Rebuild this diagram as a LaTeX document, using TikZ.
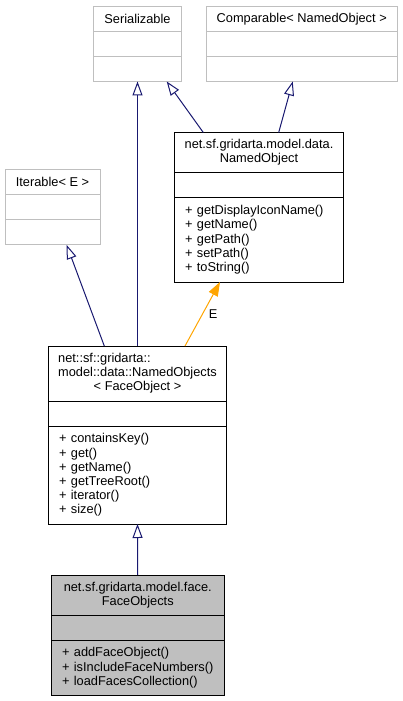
\documentclass[tikz,border=0pt]{standalone}
\usepackage{fontspec}
\setmainfont{Liberation Sans}
\usepackage{calc}
\usetikzlibrary{arrows.meta,positioning,calc}

\definecolor{edgeblue}{HTML}{191970}
\definecolor{extgray}{HTML}{BFBFBF}
\definecolor{mainfill}{HTML}{BFBFBF}
\definecolor{tplorange}{HTML}{FFA500}

\begin{document}
\begin{tikzpicture}[x=0.75pt, y=-0.75pt,
  cls/.style={draw, rectangle, line width=0.75pt, inner sep=0pt, outer sep=0pt, align=center, font=\fontsize{9.6}{10.6}\selectfont},
  ext/.style={cls, draw=extgray},
  ops/.style={cls, align=left, inner xsep=8pt},
  inh/.style={-{Triangle[open, length=10.5pt, width=7.5pt]}, line width=0.75pt, draw=edgeblue},
  tmpl/.style={-{Triangle[length=10.5pt, width=7.5pt]}, line width=0.75pt, color=tplorange}
]
\useasboundingbox (0,0) rectangle (403,701);

% external base classes
\node[ext, minimum width=66pt, minimum height=19.1pt, anchor=north] (ser) at (137.5,6) {Serializable};
\node[ext, minimum width=66pt, minimum height=18.75pt, below=0pt of ser] (serA) {};
\node[ext, minimum width=66pt, minimum height=18.75pt, below=0pt of serA] (serM) {};

\node[ext, minimum width=143.6pt, minimum height=19.1pt, anchor=north] (cmp) at (301.75,6) {Comparable< NamedObject >};
\node[ext, minimum width=143.6pt, minimum height=18.75pt, below=0pt of cmp] (cmpA) {};
\node[ext, minimum width=143.6pt, minimum height=18.75pt, below=0pt of cmpA] (cmpM) {};

\node[ext, minimum width=71.25pt, minimum height=18.75pt, anchor=north] (itr) at (52.5,169.5) {Iterable< E >};
\node[ext, minimum width=71.25pt, minimum height=19.1pt, below=0pt of itr] (itrA) {};
\node[ext, minimum width=71.25pt, minimum height=18.75pt, below=0pt of itrA] (itrM) {};

% NamedObject
\node[cls, minimum width=126.75pt, minimum height=30pt, anchor=north] (no) at (259,132.5) {net.sf.gridarta.model.data.\\NamedObject};
\node[cls, minimum width=126.75pt, minimum height=18.75pt, below=0pt of no] (noA) {};
\node[ops, text width=110.75pt, minimum height=63.4pt, below=0pt of noA] (noM) {+ getDisplayIconName()\\+ getName()\\+ getPath()\\+ setPath()\\+ toString()};

% NamedObjects< FaceObject >
\node[cls, minimum width=133.5pt, minimum height=41.25pt, anchor=north] (nos) at (137.5,346) {\makebox[\widthof{model::data::NamedObjects}][l]{net::sf::gridarta::}\\model::data::NamedObjects\\< FaceObject >};
\node[cls, minimum width=133.5pt, minimum height=18.75pt, below=0pt of nos] (nosA) {};
\node[ops, text width=117.5pt, minimum height=73.5pt, below=0pt of nosA] (nosM) {+ containsKey()\\+ get()\\+ getName()\\+ getTreeRoot()\\+ iterator()\\+ size()};

% FaceObjects
\node[cls, fill=mainfill, minimum width=129.4pt, minimum height=30pt, anchor=north] (fo) at (137.75,575) {net.sf.gridarta.model.face.\\FaceObjects};
\node[cls, fill=mainfill, minimum width=129.4pt, minimum height=19.1pt, below=0pt of fo] (foA) {};
\node[ops, fill=mainfill, text width=113.4pt, minimum height=40.9pt, below=0pt of foA] (foM) {+ addFaceObject()\\+ isIncludeFaceNumbers()\\+ loadFacesCollection()};

% inheritance
\draw[inh] (nos.north) -- (serM.south);
\draw[inh] ($(no.north)+(-55.7,0)$) -- ($(serM.south)+(29.2,0)$);
\draw[inh] ($(no.north)+(19.7,0)$) -- ($(cmpM.south)+(-9,0)$);
\draw[inh] ($(nos.north)+(-33.2,0)$) -- ($(itrM.south)+(14.2,0)$);
\draw[tmpl] ($(nos.north)+(47.5,0)$) -- node[right=1pt, text=black, font=\fontsize{9.6}{10.6}\selectfont] (lblE) {E} ($(noM.south)+(-39,0)$);
\draw[inh] (fo.north) -- (nosM.south);

\end{tikzpicture}
\end{document}
